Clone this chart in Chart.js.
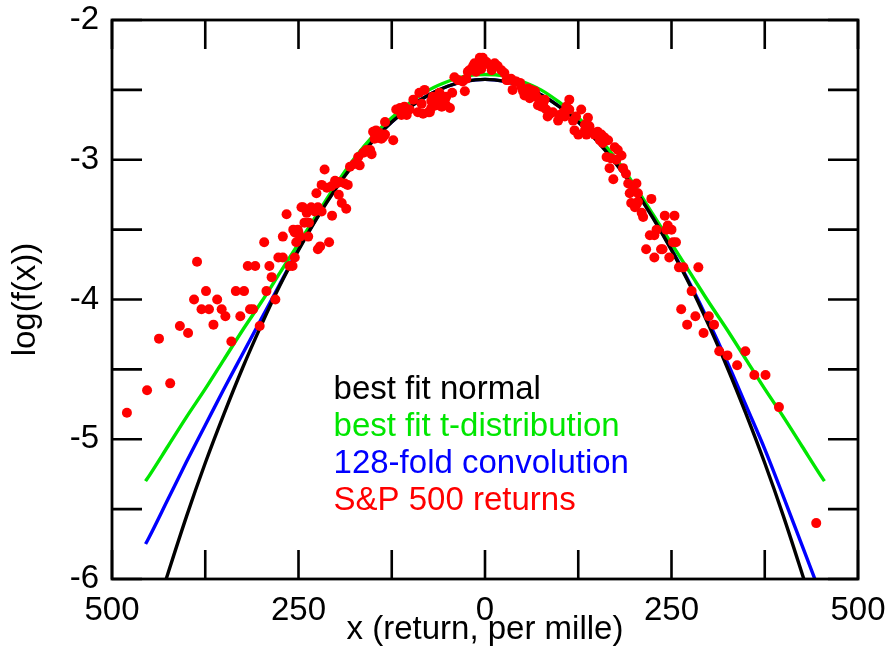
<!DOCTYPE html>
<html>
<head>
<meta charset="utf-8">
<script src="https://cdn.jsdelivr.net/npm/chart.js@4.4.1/dist/chart.umd.min.js"></script>
<style>
  body { margin: 0; background: #fff; }
  canvas { display: block; }
</style>
</head>
<body>
<canvas id="chart" width="889" height="650"></canvas>
<script>
// curve sample positions (per mille)
var curveX = [-455, -450, -425, -400, -375, -350, -325, -300, -275, -250, -225, -200, -175, -150, -125, -100, -75, -50, -25, 0,
              25, 50, 75, 100, 125, 150, 175, 200, 225, 250, 275, 300, 325, 350, 375, 400, 425, 450, 455];

// best fit normal, log10 density
var normalY = [-6.47, -6.38, -5.96, -5.55, -5.17, -4.82, -4.49, -4.185, -3.90, -3.647, -3.415, -3.207, -3.024, -2.865, -2.73, -2.621, -2.535, -2.474, -2.437, -2.425,
               -2.437, -2.474, -2.535, -2.621, -2.73, -2.865, -3.024, -3.207, -3.415, -3.647, -3.90, -4.185, -4.49, -4.82, -5.17, -5.55, -5.96, -6.38, -6.47];

// best fit t-distribution
var tdistY = [-5.30, -5.26, -5.05, -4.84, -4.64, -4.43, -4.22, -4.02, -3.81, -3.60, -3.39, -3.18, -2.99, -2.83, -2.70, -2.59, -2.50, -2.44, -2.40, -2.39,
              -2.40, -2.44, -2.50, -2.59, -2.70, -2.83, -2.99, -3.18, -3.39, -3.60, -3.81, -4.02, -4.22, -4.43, -4.64, -4.84, -5.05, -5.26, -5.30];

// 128-fold convolution
var convY = [-5.75, -5.70, -5.43, -5.16, -4.90, -4.64, -4.39, -4.14, -3.89, -3.64, -3.41, -3.20, -3.02, -2.86, -2.73, -2.62, -2.535, -2.474, -2.437, -2.425,
             -2.437, -2.474, -2.535, -2.62, -2.73, -2.86, -3.02, -3.20, -3.41, -3.64, -3.89, -4.16, -4.45, -4.76, -5.07, -5.41, -5.76, -6.11, -6.18];

// S&P 500 returns: [x, log f(x)]
var spReturns = [
  [-480, -4.81], [-453, -4.65], [-437, -4.28], [-422, -4.60], [-409, -4.19], [-398, -4.24], [-390, -4.00], [-386, -3.73],
  [-380, -4.07], [-374, -3.94], [-370, -4.07], [-364, -4.18], [-359, -4.00], [-353, -4.07], [-348, -4.12], [-340, -4.30],
  [-334, -3.94], [-328, -4.12], [-323, -3.94], [-318, -3.76], [-315, -4.07], [-311, -4.07], [-308, -3.76], [-302, -4.19],
  [-296, -3.59], [-293, -3.94], [-289, -3.76], [-286, -3.84], [-281, -4.00], [-277, -3.70], [-271, -3.55], [-271, -3.70],
  [-266, -3.39], [-262, -3.76], [-258, -3.76], [-257, -3.50], [-255, -3.52], [-255, -3.70], [-253, -3.59], [-251, -3.50],
  [-250, -3.52], [-248, -3.55], [-246, -3.34], [-244, -3.34], [-242, -3.45], [-239, -3.38], [-237, -3.55], [-236, -3.45],
  [-233, -3.34], [-228, -3.37], [-226, -3.24], [-224, -3.64], [-224, -3.34], [-221, -3.62], [-219, -3.18], [-219, -3.37],
  [-215, -3.07], [-212, -3.20], [-209, -3.59], [-206, -3.19], [-205, -3.40], [-201, -3.15], [-199, -3.17], [-196, -3.25],
  [-195, -3.16], [-192, -3.31], [-188, -3.17], [-186, -3.35], [-184, -3.18], [-181, -3.05], [-175, -3.03], [-170, -2.98],
  [-168, -3.04], [-163, -2.95], [-159, -2.93], [-154, -2.93], [-152, -2.96], [-150, -2.80], [-148, -2.85], [-146, -2.79],
  [-141, -2.81], [-139, -2.85], [-137, -2.84], [-134, -2.82], [-134, -2.73], [-123, -2.86], [-119, -2.64], [-114, -2.63],
  [-112, -2.68], [-108, -2.62], [-105, -2.68], [-101, -2.64], [-96, -2.57], [-90, -2.66], [-88, -2.52], [-85, -2.60],
  [-83, -2.67], [-81, -2.50], [-76, -2.66], [-74, -2.66], [-72, -2.58], [-72, -2.63], [-70, -2.55], [-67, -2.57],
  [-65, -2.61], [-61, -2.56], [-61, -2.52], [-58, -2.62], [-54, -2.57], [-52, -2.61], [-52, -2.55], [-47, -2.63],
  [-44, -2.52], [-41, -2.41], [-36, -2.43], [-30, -2.44], [-27, -2.51], [-25, -2.42], [-23, -2.37], [-21, -2.36],
  [-18, -2.35], [-16, -2.33], [-14, -2.31], [-12, -2.37], [-9, -2.31], [-7, -2.27], [-5, -2.35], [-3, -2.27],
  [2, -2.30], [6, -2.32], [9, -2.36], [11, -2.32], [13, -2.31], [17, -2.33], [22, -2.36], [26, -2.38],
  [29, -2.43], [31, -2.43], [35, -2.42], [37, -2.50], [40, -2.44], [42, -2.44], [47, -2.45], [49, -2.48],
  [51, -2.51], [53, -2.54], [55, -2.50], [58, -2.49], [60, -2.56], [62, -2.50], [64, -2.52], [67, -2.51],
  [69, -2.55], [71, -2.61], [73, -2.57], [76, -2.62], [78, -2.60], [80, -2.57], [82, -2.64], [84, -2.69],
  [87, -2.67], [91, -2.66], [98, -2.72], [100, -2.68], [105, -2.66], [107, -2.69], [109, -2.62], [113, -2.57],
  [113, -2.64], [118, -2.72], [120, -2.79], [122, -2.69], [125, -2.82], [129, -2.64], [134, -2.75], [134, -2.79],
  [136, -2.82], [138, -2.70], [140, -2.76], [143, -2.80], [147, -2.82], [151, -2.80], [154, -2.86], [156, -2.82],
  [158, -2.88], [160, -2.84], [163, -2.98], [165, -2.86], [167, -3.06], [169, -2.99], [172, -3.14], [174, -2.91],
  [176, -3.00], [178, -2.93], [183, -2.97], [185, -3.06], [189, -3.10], [192, -3.17], [194, -3.24], [196, -3.31],
  [198, -3.19], [201, -3.34], [203, -3.17], [203, -3.32], [205, -3.24], [205, -3.30], [210, -3.38], [212, -3.41],
  [216, -3.64], [221, -3.54], [223, -3.28], [227, -3.54], [227, -3.70], [230, -3.50], [236, -3.64], [238, -3.64],
  [241, -3.40], [243, -3.50], [245, -3.47], [247, -3.70], [250, -3.50], [252, -3.59], [254, -3.40], [256, -3.59],
  [260, -3.77], [263, -4.07], [266, -3.77], [271, -4.18], [277, -3.94], [282, -4.12], [286, -3.77], [293, -4.24],
  [300, -4.12], [307, -4.18], [314, -4.37], [325, -4.40], [338, -4.47], [349, -4.37], [361, -4.54], [376, -4.54],
  [394, -4.77], [444, -5.60]
];

// tick labels
var xLabelAt = [-500, -250, 0, 250, 500];
var xLabelText = ['500', '250', '0', '250', '500'];
var yLabelAt = [-6, -5, -4, -3, -2];

var seriesNames = ['best fit normal', 'best fit t-distribution', '128-fold convolution', 'S&P 500 returns'];
var seriesColors = ['rgb(0,0,0)', 'rgb(0,230,0)', 'rgb(0,0,255)', 'rgb(255,0,0)'];

Chart.defaults.font.family = '"Liberation Sans", Arial, sans-serif';
Chart.defaults.font.size = 33;
Chart.defaults.color = '#000';

function toPoints(xs, ys) {
  return xs.map(function (x, i) { return { x: x, y: ys[i] }; });
}

function curve(label, ys, color, order) {
  return {
    label: label,
    data: toPoints(curveX, ys),
    showLine: true,
    borderColor: color,
    backgroundColor: color,
    borderWidth: 3.4,
    pointRadius: 0,
    cubicInterpolationMode: 'monotone',
    clip: 0,
    order: order
  };
}

// frame, inward ticks on all four sides, and the text legend
var frameAndLegend = {
  id: 'frameAndLegend',
  afterDatasetsDraw: function (chart) {
    var ctx = chart.ctx, a = chart.chartArea;
    var xs = chart.scales.x, ys = chart.scales.y;
    ctx.save();
    ctx.strokeStyle = '#000';
    ctx.lineWidth = 2.6;
    ctx.beginPath();
    xs.ticks.forEach(function (t) {
      var px = xs.getPixelForValue(t.value);
      ctx.moveTo(px, a.bottom); ctx.lineTo(px, a.bottom - 29);
      ctx.moveTo(px, a.top); ctx.lineTo(px, a.top + 29);
    });
    ys.ticks.forEach(function (t) {
      var py = ys.getPixelForValue(t.value);
      ctx.moveTo(a.left, py); ctx.lineTo(a.left + 30, py);
      ctx.moveTo(a.right, py); ctx.lineTo(a.right - 30, py);
    });
    ctx.stroke();
    ctx.lineWidth = 2.8;
    ctx.strokeRect(a.left, a.top, a.right - a.left, a.bottom - a.top);

    ctx.font = '33px "Liberation Sans", Arial, sans-serif';
    ctx.textAlign = 'left';
    ctx.textBaseline = 'alphabetic';
    var lx = xs.getPixelForValue(-203);
    var ly = ys.getPixelForValue(-4.71);
    seriesNames.forEach(function (name, i) {
      ctx.fillStyle = seriesColors[i];
      ctx.fillText(name, lx, ly + i * 37);
    });
    ctx.restore();
  }
};

new Chart(document.getElementById('chart'), {
  type: 'scatter',
  data: {
    datasets: [
      {
        label: seriesNames[3],
        data: spReturns.map(function (p) { return { x: p[0], y: p[1] }; }),
        backgroundColor: seriesColors[3],
        borderWidth: 0,
        pointRadius: 5,
        order: 0
      },
      curve(seriesNames[0], normalY, seriesColors[0], 1),
      curve(seriesNames[1], tdistY, seriesColors[1], 2),
      curve(seriesNames[2], convY, seriesColors[2], 3)
    ]
  },
  options: {
    responsive: false,
    animation: false,
    layout: { padding: { top: 20, right: 31, left: 0, bottom: 0 } },
    plugins: { legend: { display: false }, tooltip: { enabled: false } },
    scales: {
      x: {
        type: 'linear',
        min: -500, max: 500,
        grid: { display: false },
        border: { display: false },
        afterFit: function (s) { s.height = 71; s.paddingLeft = 0; s.paddingRight = 0; },
        ticks: {
          stepSize: 125,
          autoSkip: false,
          maxRotation: 0,
          padding: 4,
          callback: function (v) {
            var i = xLabelAt.indexOf(v);
            return i >= 0 ? xLabelText[i] : '';
          }
        },
        title: {
          display: true,
          text: 'x (return, per mille)',
          padding: { top: 0, bottom: 0 }
        }
      },
      y: {
        type: 'linear',
        min: -6, max: -2,
        grid: { display: false },
        border: { display: false },
        afterFit: function (s) { s.width = 112; s.paddingTop = 0; s.paddingBottom = 0; },
        ticks: {
          stepSize: 0.5,
          autoSkip: false,
          padding: 5,
          callback: function (v) {
            return yLabelAt.indexOf(v) >= 0 ? String(v) : '';
          }
        },
        title: {
          display: true,
          text: 'log(f(x))',
          padding: { top: 6, bottom: 0 }
        }
      }
    }
  },
  plugins: [frameAndLegend]
});
</script>
</body>
</html>
